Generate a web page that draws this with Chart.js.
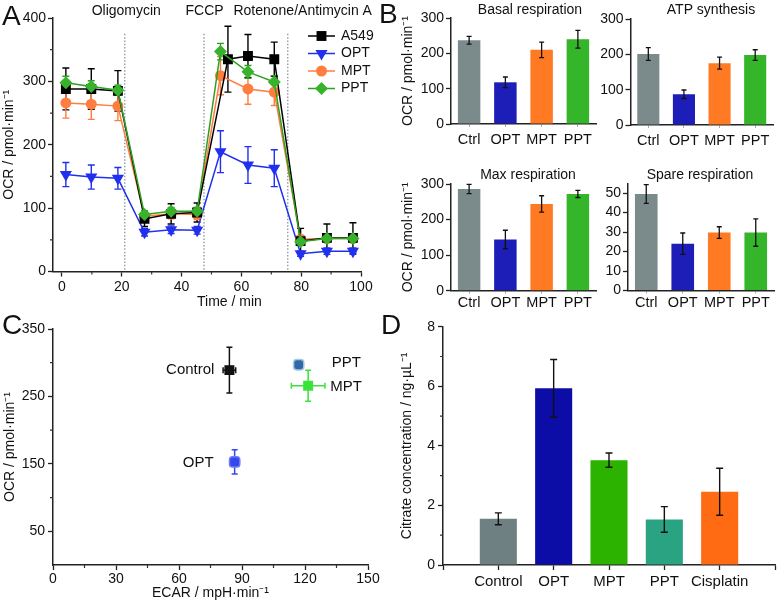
<!DOCTYPE html>
<html>
<head>
<meta charset="utf-8">
<script src="https://cdn.jsdelivr.net/npm/chart.js@4.4.1/dist/chart.umd.min.js"></script>
<style>
  body { margin: 0; background: #fff; width: 778px; height: 610px; position: relative; overflow: hidden; }
  .box { position: absolute; }
  .letter { position: absolute; font-family: "Liberation Sans", Arial, sans-serif; font-size: 28px; line-height: 28px; color: #111; }
</style>
</head>
<body>
<div class="box" style="left:0;top:0;width:390px;height:310px"><canvas id="chartA"></canvas></div>
<div class="box" style="left:390px;top:0;width:215px;height:150px"><canvas id="chartB1"></canvas></div>
<div class="box" style="left:595px;top:0;width:183px;height:150px"><canvas id="chartB2"></canvas></div>
<div class="box" style="left:390px;top:150px;width:215px;height:165px"><canvas id="chartB3"></canvas></div>
<div class="box" style="left:595px;top:150px;width:183px;height:165px"><canvas id="chartB4"></canvas></div>
<div class="box" style="left:0;top:310px;width:390px;height:300px"><canvas id="chartC"></canvas></div>
<div class="box" style="left:390px;top:310px;width:388px;height:300px"><canvas id="chartD"></canvas></div>
<div class="letter" style="left:2px;top:2px">A</div>
<div class="letter" style="left:379px;top:0px">B</div>
<div class="letter" style="left:2px;top:311px">C</div>
<div class="letter" style="left:381px;top:311px">D</div>
<script>
// ---------- A : OCR time course ----------
var timeMin  = [1.3, 9.8, 18.7, 27.6, 36.5, 45.2, 53.0, 62.2, 71.0, 79.8, 88.6, 97.3];
var a549Time = [1.3, 9.8, 18.7, 27.6, 36.5, 45.2, 55.5, 62.2, 71.0, 79.8, 88.6, 97.3];
var a549Ocr  = [288, 288, 285, 83, 91, 93, 335, 340, 335, 48, 53, 53];
var a549Err  = [33, 32, 32, 12, 16, 15, 52, 34, 27, 20, 22, 24];
var optOcr   = [153, 149, 147, 62, 66, 65, 189, 168, 163, 28, 32, 32];
var optErr   = [19, 19, 17, 6, 6, 6, 33, 29, 29, 4, 5, 5];
var mptOcr   = [266, 264, 261, 87, 91, 90, 309, 288, 283, 51, 52, 52];
var mptErr   = [24, 24, 23, 8, 8, 8, 30, 24, 21, 6, 6, 6];
var pptOcr   = [298, 292, 286, 90, 95, 95, 347, 315, 299, 47, 52, 52];
var pptErr   = [10, 9, 8, 6, 6, 6, 13, 10, 10, 5, 5, 5];
var drugNames = ['Oligomycin', 'FCCP', 'Rotenone/Antimycin A'];
var drugTimes = [21, 47.5, 75.5];
var timeTicks = [0, 20, 40, 60, 80, 100];
var ocrTicksA = [0, 100, 200, 300, 400];

// ---------- B : respiration parameters ----------
var groupsB   = ['Ctrl', 'OPT', 'MPT', 'PPT'];
var basalResp = [237, 118, 210, 240];
var basalErr  = [11, 15, 22, 25];
var atpSynth  = [201, 87, 175, 198];
var atpErr    = [18, 12, 17, 15];
var maxResp   = [286, 144, 244, 272];
var maxErr    = [13, 26, 23, 10];
var spareResp = [49.5, 24, 29.7, 29.7];
var spareErr  = [4.8, 5.5, 3, 7];
var ocrTicksB   = [0, 100, 200, 300];
var spareTicks  = [0, 10, 20, 30, 40, 50];

// ---------- C : OCR vs ECAR ----------
var groupsC    = ['Control', 'OPT', 'MPT', 'PPT'];
var ecarValues = [84, 86.5, 121.5, 117];
var ecarErr    = [3, 2, 8, 2];
var ocrValues  = [289, 153, 266, 297];
var ocrErrC    = [34, 18, 23, 4];
var ecarTicks  = [0, 30, 60, 90, 120, 150];
var ocrTicksC  = [50, 150, 250, 350];

// ---------- D : citrate ----------
var groupsD      = ['Control', 'OPT', 'MPT', 'PPT', 'Cisplatin'];
var citrateConc  = [1.55, 5.93, 3.52, 1.53, 2.46];
var citrateErr   = [0.2, 0.97, 0.24, 0.43, 0.79];
var citrateTicks = [0, 2, 4, 6, 8];

var FONT = '"Liberation Sans", Arial, sans-serif';
Chart.defaults.font.family = FONT;
Chart.defaults.font.size = 14;
Chart.defaults.color = '#111';

// error bars from dataset.yErr / dataset.xErr, drawn through the scales
function drawErrorBars(chart) {
  var ctx = chart.ctx;
  chart.data.datasets.forEach(function (ds, i) {
    if (!ds.yErr && !ds.xErr) return;
    var meta = chart.getDatasetMeta(i);
    var xs = chart.scales[meta.xAxisID], ys = chart.scales[meta.yAxisID];
    var cap = ds.errCap || 3;
    ctx.save();
    ctx.strokeStyle = ds.errColor || ds.borderColor || '#111';
    ctx.lineWidth = ds.errWidth || 1.3;
    meta.data.forEach(function (el, j) {
      var p = meta.controller.getParsed(j);
      if (!p || p.y == null) return;
      ctx.beginPath();
      if (ds.yErr && ds.yErr[j]) {
        var t = ys.getPixelForValue(p.y + ds.yErr[j]), b = ys.getPixelForValue(p.y - ds.yErr[j]);
        ctx.moveTo(el.x, t); ctx.lineTo(el.x, b);
        ctx.moveTo(el.x - cap, t); ctx.lineTo(el.x + cap, t);
        ctx.moveTo(el.x - cap, b); ctx.lineTo(el.x + cap, b);
      }
      if (ds.xErr && ds.xErr[j]) {
        var l = xs.getPixelForValue(p.x - ds.xErr[j]), r = xs.getPixelForValue(p.x + ds.xErr[j]);
        ctx.moveTo(l, el.y); ctx.lineTo(r, el.y);
        ctx.moveTo(l, el.y - cap); ctx.lineTo(l, el.y + cap);
        ctx.moveTo(r, el.y - cap); ctx.lineTo(r, el.y + cap);
      }
      ctx.stroke();
    });
    ctx.restore();
  });
}
var errorBars = {
  id: 'errorBars',
  beforeDatasetsDraw: function (chart, args, opts) { if (opts.behind) drawErrorBars(chart); },
  afterDatasetsDraw: function (chart, args, opts) { if (!opts.behind) drawErrorBars(chart); }
};

// small unlabeled ticks
var minorTicks = {
  id: 'minorTicks',
  afterDraw: function (chart, args, opts) {
    var ctx = chart.ctx, a = chart.chartArea, len = opts.len || 3;
    ctx.save();
    ctx.strokeStyle = opts.color || '#333';
    ctx.lineWidth = 1.2;
    ctx.beginPath();
    (opts.x || []).forEach(function (v) {
      var px = chart.scales.x.getPixelForValue(v);
      ctx.moveTo(px, a.bottom); ctx.lineTo(px, a.bottom + len);
    });
    (opts.y || []).forEach(function (v) {
      var py = chart.scales.y.getPixelForValue(v);
      ctx.moveTo(a.left - len, py); ctx.lineTo(a.left, py);
    });
    ctx.stroke();
    ctx.restore();
  }
};

// free text: plain pixel position, x-value position, or next to a data point
var texts = {
  id: 'texts',
  afterDraw: function (chart, args, opts) {
    var ctx = chart.ctx;
    (opts.items || []).forEach(function (t) {
      var x = t.x, y = t.y;
      if (t.xValue !== undefined) x = chart.scales.x.getPixelForValue(t.xValue);
      if (t.dataset !== undefined) {
        var el = chart.getDatasetMeta(t.dataset).data[0];
        x = el.x + (t.dx || 0); y = el.y + (t.dy || 0);
      }
      ctx.save();
      ctx.font = (t.size || 14) + 'px ' + FONT;
      ctx.fillStyle = t.color || '#111';
      ctx.textAlign = t.align || 'center';
      ctx.textBaseline = 'middle';
      ctx.fillText(t.text, x, y);
      ctx.restore();
    });
  }
};

// dotted injection lines + legend for panel A
var panelAExtras = {
  id: 'panelAExtras',
  beforeDatasetsDraw: function (chart) {
    var ctx = chart.ctx, xs = chart.scales.x, ys = chart.scales.y;
    ctx.save();
    ctx.strokeStyle = '#8d9cab';
    ctx.lineWidth = 1.4;
    ctx.setLineDash([1.5, 1.8]);
    drugTimes.forEach(function (t) {
      var px = xs.getPixelForValue(t);
      ctx.beginPath();
      ctx.moveTo(px, ys.getPixelForValue(375));
      ctx.lineTo(px, ys.getPixelForValue(0));
      ctx.stroke();
    });
    ctx.restore();
  },
  afterDraw: function (chart) {
    var ctx = chart.ctx;
    var x0 = 308, x1 = 335, rows = [36, 53.5, 71, 88.5];
    chart.data.datasets.forEach(function (ds, i) {
      var y = rows[i], xm = (x0 + x1) / 2;
      ctx.save();
      ctx.strokeStyle = ds.borderColor; ctx.lineWidth = 1.5;
      ctx.beginPath(); ctx.moveTo(x0, y); ctx.lineTo(x1, y); ctx.stroke();
      ctx.fillStyle = ds.backgroundColor;
      ctx.beginPath();
      var r = ds.pointRadius;
      if (ds.pointStyle === 'rect') { var s = r * Math.SQRT1_2; ctx.rect(xm - s, y - s, 2 * s, 2 * s); }
      else if (ds.pointStyle === 'triangle') { ctx.moveTo(xm - r * 0.866, y - r / 2); ctx.lineTo(xm + r * 0.866, y - r / 2); ctx.lineTo(xm, y + r); ctx.closePath(); }
      else if (ds.pointStyle === 'rectRot') { ctx.moveTo(xm, y - r); ctx.lineTo(xm + r, y); ctx.lineTo(xm, y + r); ctx.lineTo(xm - r, y); ctx.closePath(); }
      else { ctx.arc(xm, y, r, 0, Math.PI * 2); }
      ctx.fill();
      ctx.font = '14px ' + FONT; ctx.fillStyle = '#111';
      ctx.textAlign = 'left'; ctx.textBaseline = 'middle';
      ctx.fillText(ds.label, x1 + 6, y);
      ctx.restore();
    });
  }
};

function xy(xsArr, ysArr) {
  return xsArr.map(function (v, i) { return { x: v, y: ysArr[i] }; });
}
function fixTicks(list) {
  return function (scale) { scale.ticks = list.map(function (v) { return { value: v }; }); };
}
function fixSize(prop, v) {
  return function (scale) { scale[prop] = v; };
}
var axisBorder = { color: '#222', width: 1.5 };

// ---------- chart A ----------
function lineSet(label, color, fill, style, radius, tArr, vals, errs, order, rot) {
  return {
    label: label, data: xy(tArr, vals), yErr: errs, order: order,
    borderColor: color, backgroundColor: fill, borderWidth: 1.5,
    pointStyle: style, pointRadius: radius, pointRotation: rot || 0,
    pointBorderWidth: 0, pointBackgroundColor: fill,
    errCap: 3.5, errWidth: 1.4
  };
}
new Chart(document.getElementById('chartA'), {
  type: 'line',
  data: {
    datasets: [
      lineSet('A549', '#000000', '#000000', 'rect', 7, a549Time, a549Ocr, a549Err, 1),
      lineSet('OPT', '#2130ee', '#2130ee', 'triangle', 7, timeMin, optOcr, optErr, 3, 180),
      lineSet('MPT', '#ff7d3e', '#ff7d3e', 'circle', 5.5, timeMin, mptOcr, mptErr, 2),
      lineSet('PPT', '#2f9f22', '#38b22c', 'rectRot', 6.5, timeMin, pptOcr, pptErr, 0)
    ]
  },
  options: {
    animation: false, responsive: true, maintainAspectRatio: false,
    layout: { padding: { top: 18, right: 29, left: 0, bottom: 0 } },
    scales: {
      x: {
        type: 'linear', min: -3, max: 100,
        afterBuildTicks: fixTicks(timeTicks), afterFit: fixSize('height', 38.5),
        grid: { drawOnChartArea: false, tickLength: 5, tickColor: '#222', tickWidth: 1.3 },
        border: axisBorder, ticks: { padding: 2, maxRotation: 0 }
      },
      y: {
        min: 0, max: 400,
        afterBuildTicks: fixTicks(ocrTicksA), afterFit: fixSize('width', 53),
        grid: { drawOnChartArea: false, tickLength: 5, tickColor: '#222', tickWidth: 1.3 },
        border: axisBorder, ticks: { padding: 2 },
        title: { display: true, text: 'OCR / pmol·min⁻¹', font: { size: 14 }, padding: { top: 1 } }
      }
    },
    plugins: {
      legend: { display: false }, tooltip: { enabled: false },
      errorBars: { behind: true },
      minorTicks: { x: [10, 30, 50, 70, 90], y: [50, 150, 250, 350] },
      texts: { items: [
        { text: drugNames[0], xValue: 21.5, y: 11 },
        { text: drugNames[1], xValue: 47.7, y: 11 },
        { text: drugNames[2], xValue: 80.5, y: 11 },
        { text: 'Time / min', xValue: 56, y: 302 }
      ] }
    }
  },
  plugins: [errorBars, minorTicks, texts, panelAExtras]
});

// ---------- chart B (four small bar charts) ----------
var colorsB = ['#7b8b8c', '#1d1db8', '#ff7a22', '#35b52a'];
function smallBar(id, values, errs, c) {
  var yScale = {
    min: 0, max: c.yMax,
    afterBuildTicks: fixTicks(c.yTicks), afterFit: fixSize('width', c.yWidth),
    grid: { drawOnChartArea: false, tickLength: 5, tickColor: '#222', tickWidth: 1.3 },
    border: axisBorder, ticks: { padding: 2 }
  };
  if (c.yTitle) yScale.title = { display: true, text: 'OCR / pmol·min⁻¹', font: { size: 14 }, padding: { top: 9.5 } };
  return new Chart(document.getElementById(id), {
    type: 'bar',
    data: {
      labels: groupsB,
      datasets: [{ data: values, yErr: errs, backgroundColor: colorsB, borderWidth: 0,
        categoryPercentage: 1, barPercentage: 0.62, errColor: '#111', errCap: 2.5, errWidth: 1.3 }]
    },
    options: {
      animation: false, responsive: true, maintainAspectRatio: false,
      layout: { padding: { top: c.top, right: c.right, left: 0, bottom: 0 } },
      scales: {
        x: {
          afterFit: fixSize('height', c.xHeight),
          grid: { offset: false, drawOnChartArea: false, tickLength: 3, tickColor: '#aaa' },
          border: axisBorder,
          ticks: { padding: c.labelPad, font: { size: 14.5 }, maxRotation: 0, minRotation: 0, autoSkip: false }
        },
        y: yScale
      },
      plugins: {
        legend: { display: false }, tooltip: { enabled: false },
        texts: { items: [{ text: c.title, x: c.titleX, y: c.titleY }] }
      }
    },
    plugins: [errorBars, texts]
  });
}
smallBar('chartB1', basalResp, basalErr, { title: 'Basal respiration', titleX: 140, titleY: 10,
  yMax: 300, yTicks: ocrTicksB, yWidth: 61, yTitle: true, top: 18, right: 9, xHeight: 26, labelPad: 4 });
smallBar('chartB2', atpSynth, atpErr, { title: 'ATP synthesis', titleX: 116, titleY: 10,
  yMax: 300, yTicks: ocrTicksB, yWidth: 35.5, yTitle: false, top: 19, right: 5, xHeight: 25, labelPad: 4 });
smallBar('chartB3', maxResp, maxErr, { title: 'Max respiration', titleX: 138, titleY: 25,
  yMax: 300, yTicks: ocrTicksB, yWidth: 61, yTitle: true, top: 34, right: 9, xHeight: 24.3, labelPad: 1 });
smallBar('chartB4', spareResp, spareErr, { title: 'Spare respiration', titleX: 105, titleY: 25,
  yMax: 55, yTicks: spareTicks, yWidth: 33, yTitle: false, top: 33.3, right: 4, xHeight: 24.5, labelPad: 1 });

// ---------- chart C ----------
var markerC = [
  { bg: '#111111', border: '#111111', style: 'rect', err: '#111111' },
  { bg: '#3448ee', border: '#6a7cf5', style: 'rectRounded', err: '#3448ee' },
  { bg: '#3be23b', border: '#3be23b', style: 'rect', err: '#3be23b' },
  { bg: '#2f6aa6', border: '#a7c9e6', style: 'rectRounded', err: '#6c9cc8' }
];
new Chart(document.getElementById('chartC'), {
  type: 'scatter',
  data: {
    datasets: groupsC.map(function (g, i) {
      return {
        label: g, data: [{ x: ecarValues[i], y: ocrValues[i] }],
        xErr: [ecarErr[i]], yErr: [ocrErrC[i]],
        pointStyle: markerC[i].style, pointRadius: 6,
        backgroundColor: markerC[i].bg, borderColor: markerC[i].border, pointBorderWidth: 1.5,
        errColor: markerC[i].err, errCap: 3, errWidth: 1.5
      };
    })
  },
  options: {
    animation: false, responsive: true, maintainAspectRatio: false,
    layout: { padding: { top: 19, right: 22, left: 0, bottom: 0 } },
    scales: {
      x: {
        type: 'linear', min: 0, max: 150,
        afterBuildTicks: fixTicks(ecarTicks), afterFit: fixSize('height', 45),
        grid: { drawOnChartArea: false, tickLength: 5, tickColor: '#222', tickWidth: 1.3 },
        border: axisBorder, ticks: { padding: 1, maxRotation: 0 },
        title: { display: true, text: 'ECAR / mpH·min⁻¹', font: { size: 14 }, padding: { bottom: 8 } }
      },
      y: {
        min: 0, max: 350,
        afterBuildTicks: fixTicks(ocrTicksC), afterFit: fixSize('width', 53),
        grid: { drawOnChartArea: false, tickLength: 5, tickColor: '#222', tickWidth: 1.3 },
        border: axisBorder, ticks: { padding: 3 },
        title: { display: true, text: 'OCR / pmol·min⁻¹', font: { size: 14 }, padding: { top: 2 } }
      }
    },
    plugins: {
      legend: { display: false }, tooltip: { enabled: false },
      errorBars: { behind: true },
      minorTicks: { x: [15, 45, 75, 105, 135], y: [100, 200, 300] },
      texts: { items: [
        { text: groupsC[0], dataset: 0, dx: -15, dy: 0, align: 'right', size: 15 },
        { text: groupsC[1], dataset: 1, dx: -21, dy: 1, align: 'right', size: 15 },
        { text: groupsC[2], dataset: 2, dx: 22, dy: 1, align: 'left', size: 15 },
        { text: groupsC[3], dataset: 3, dx: 33, dy: -2, align: 'left', size: 15 }
      ] }
    }
  },
  plugins: [errorBars, minorTicks, texts]
});

// ---------- chart D ----------
var colorsD = ['#6f8083', '#0c0ca6', '#2bb300', '#2aa383', '#ff6b13'];
new Chart(document.getElementById('chartD'), {
  type: 'bar',
  data: {
    labels: [''].concat(groupsD, ['']),
    datasets: [{
      data: [null].concat(citrateConc, [null]),
      yErr: [null].concat(citrateErr, [null]),
      backgroundColor: ['#fff'].concat(colorsD, ['#fff']),
      borderWidth: 0, categoryPercentage: 1, barPercentage: 0.67,
      errColor: '#111', errCap: 3.5, errWidth: 1.4
    }]
  },
  options: {
    animation: false, responsive: true, maintainAspectRatio: false,
    layout: { padding: { top: 16.7, right: 3, left: 0, bottom: 0 } },
    scales: {
      x: {
        offset: false, afterFit: fixSize('height', 45),
        grid: { offset: false, drawOnChartArea: false, tickLength: 5, tickColor: '#222', tickWidth: 1.3 },
        border: axisBorder,
        ticks: { padding: 3, font: { size: 15 }, maxRotation: 0, minRotation: 0, autoSkip: false }
      },
      y: {
        min: 0, max: 8,
        afterBuildTicks: fixTicks(citrateTicks), afterFit: fixSize('width', 53),
        grid: { drawOnChartArea: false, tickLength: 5, tickColor: '#222', tickWidth: 1.3 },
        border: axisBorder, ticks: { padding: 3 },
        title: { display: true, text: 'Citrate concentration / ng·µL⁻¹', font: { size: 14 }, padding: { top: 9 } }
      }
    },
    plugins: {
      legend: { display: false }, tooltip: { enabled: false },
      minorTicks: { y: [1, 3, 5, 7] }
    }
  },
  plugins: [errorBars, minorTicks]
});
</script>
</body>
</html>
